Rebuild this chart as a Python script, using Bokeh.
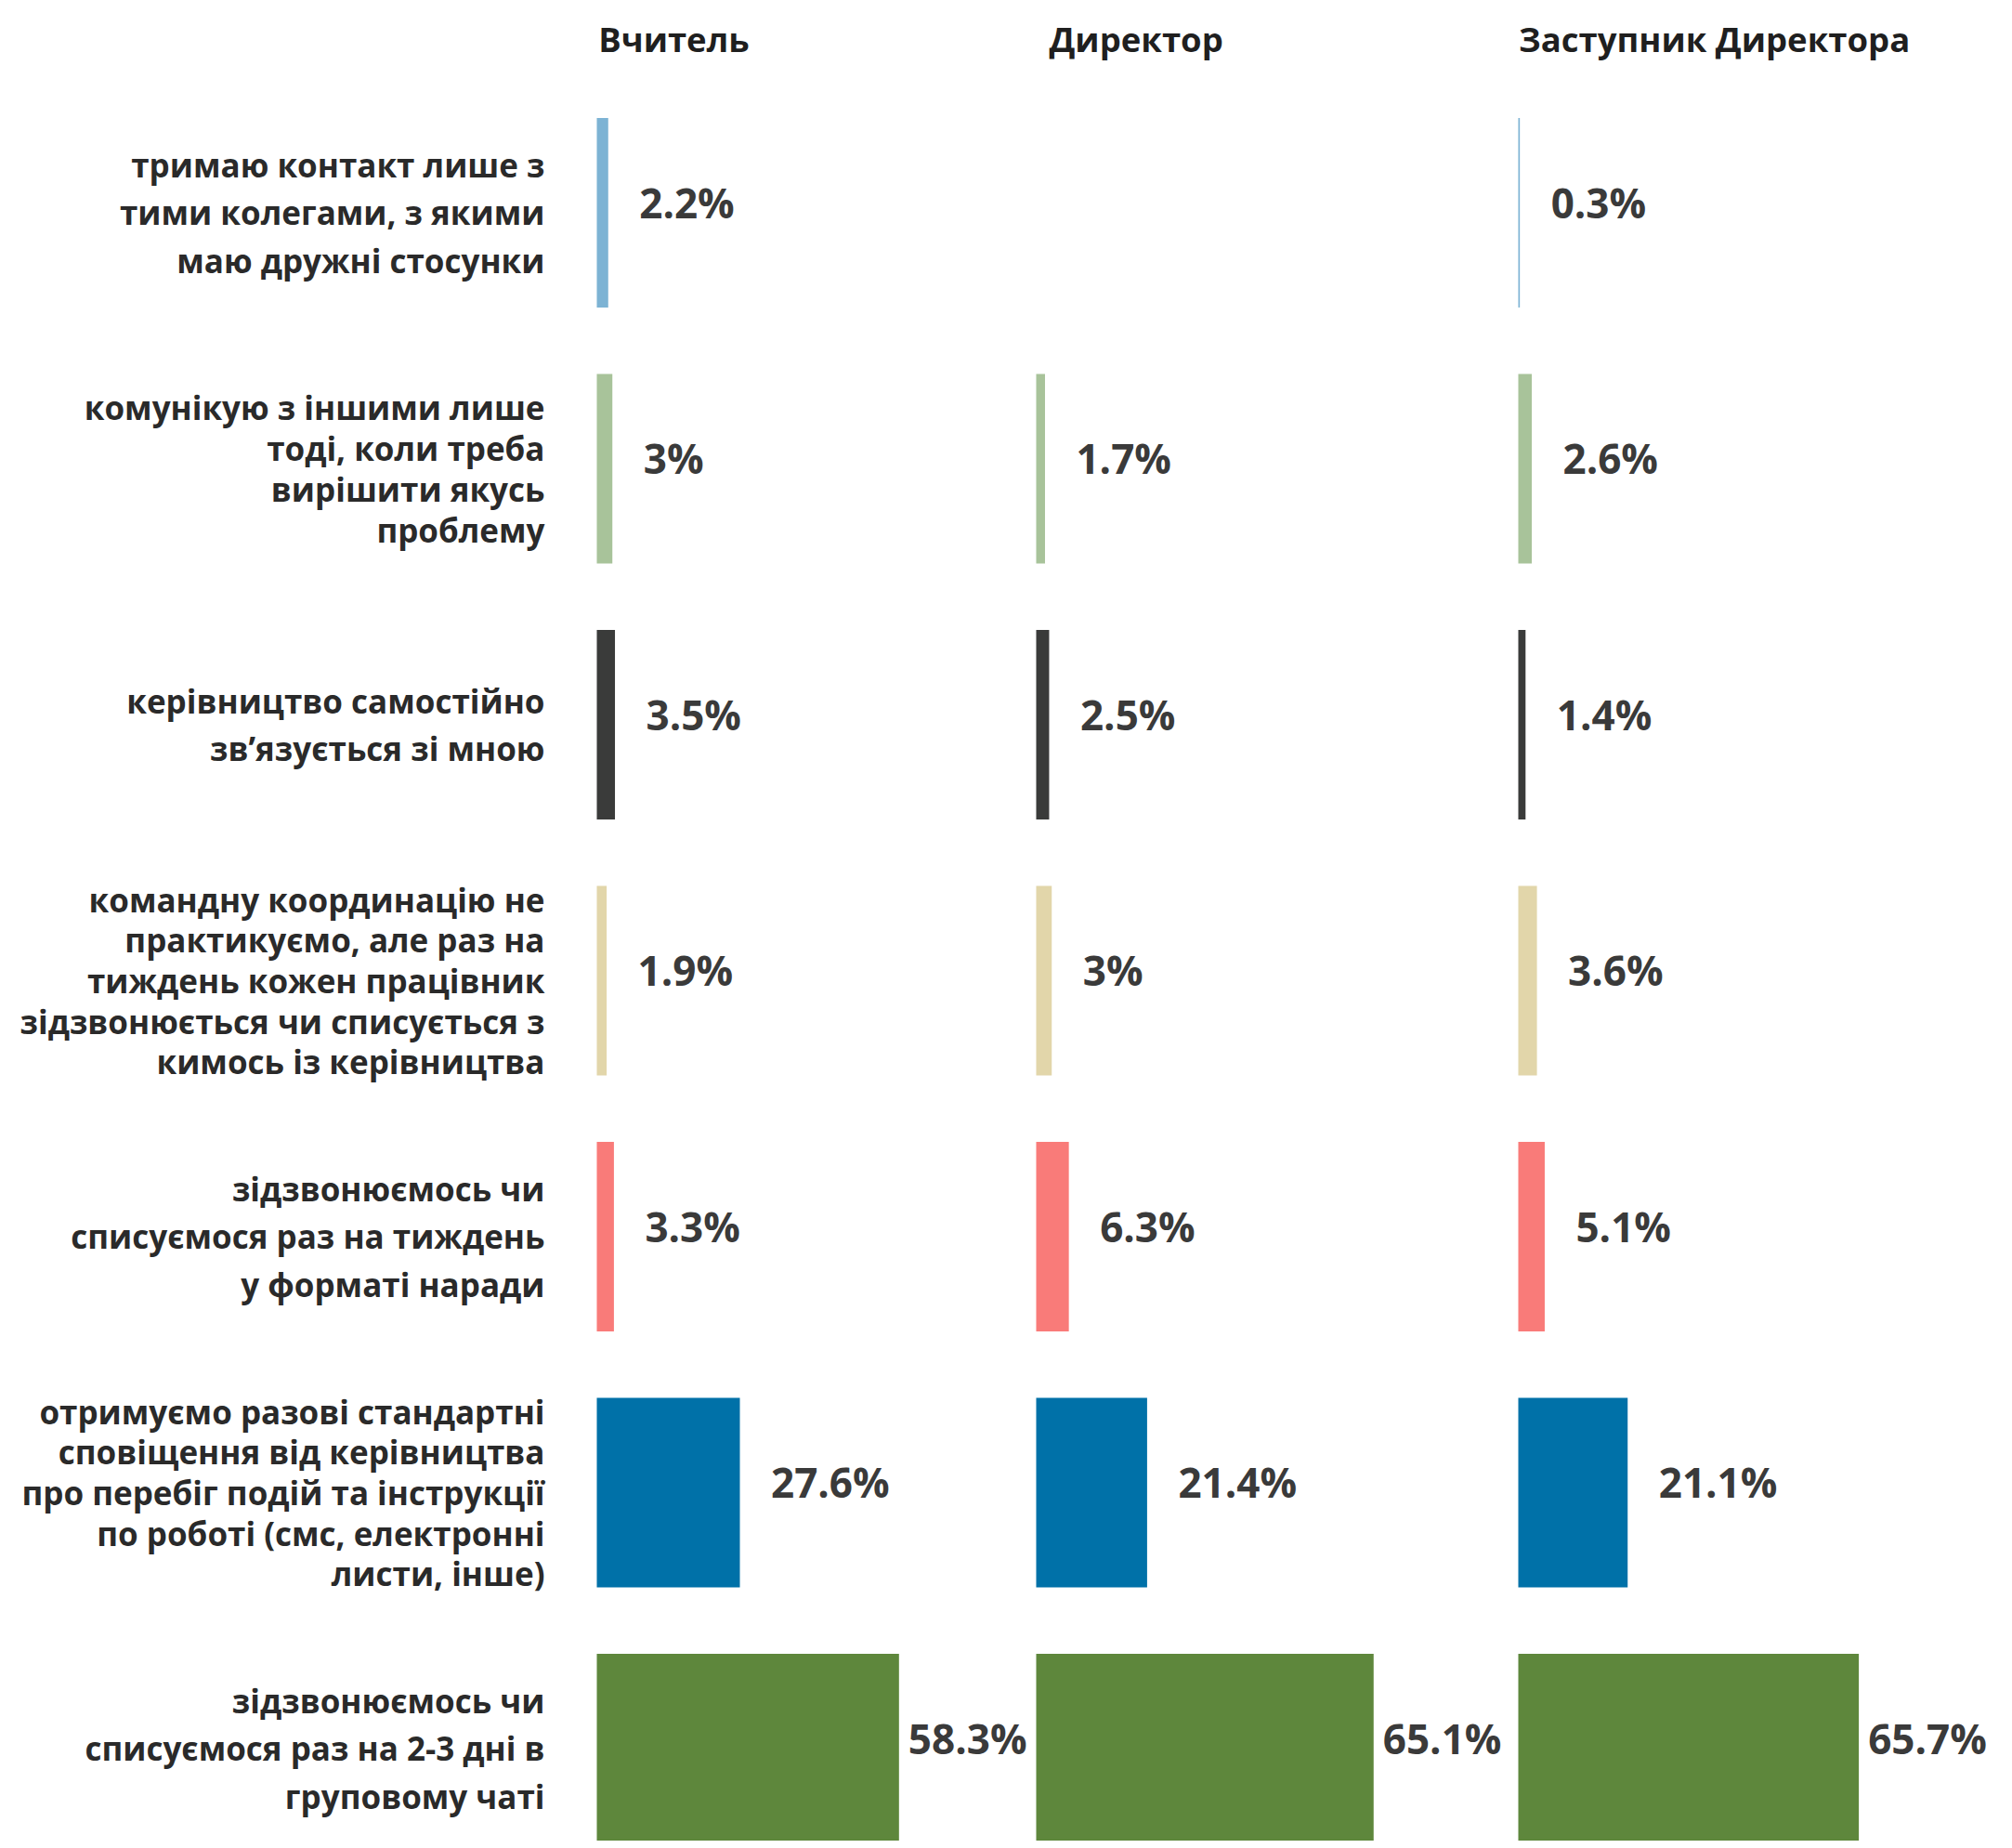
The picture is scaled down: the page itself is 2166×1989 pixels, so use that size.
from bokeh.plotting import figure
from bokeh.models import Range1d
from bokeh.core.properties import value
from bokeh.embed import file_html
from bokeh.resources import INLINE

# ---------------- data ----------------
roles = ["Вчитель", "Директор", "Заступник Директора"]

categories = [
    "тримаю контакт лише з\nтими колегами, з якими\nмаю дружні стосунки",
    "комунікую з іншими лише\nтоді, коли треба\nвирішити якусь\nпроблему",
    "керівництво самостійно\nзв’язується зі мною",
    "командну координацію не\nпрактикуємо, але раз на\nтиждень кожен працівник\nзідзвонюється чи списується з\nкимось із керівництва",
    "зідзвонюємось чи\nсписуємося раз на тиждень\nу форматі наради",
    "отримуємо разові стандартні\nсповіщення від керівництва\nпро перебіг подій та інструкції\nпо роботі (смс, електронні\nлисти, інше)",
    "зідзвонюємось чи\nсписуємося раз на 2-3 дні в\nгруповому чаті",
]

teacher = [2.2, 3, 3.5, 1.9, 3.3, 27.6, 58.3]
director = [None, 1.7, 2.5, 3, 6.3, 21.4, 65.1]
deputy = [0.3, 2.6, 1.4, 3.6, 5.1, 21.1, 65.7]

row_colors = ["#7DB3D4", "#A8C39A", "#3A3B3A", "#E2D6AA", "#F97B79", "#0071A8", "#5E873C"]

# ---------------- layout ----------------
W, H = 2158, 1981
PX_PER_PCT = 5.58             # horizontal scale: pixels per percentage point
ROW_PX = 275.5                # vertical pixel pitch per row
FIRST_ROW_CENTER_PX = 228.5   # pixel of first row centre
col_left_px = [642, 1115, 1634]
col_left = [c / PX_PER_PCT for c in col_left_px]
label_right = 586 / PX_PER_PCT

y_top = -FIRST_ROW_CENTER_PX / ROW_PX
y_bottom = (H - FIRST_ROW_CENTER_PX) / ROW_PX

p = figure(width=W, height=H, output_backend="svg", toolbar_location=None,
           x_range=Range1d(0, W / PX_PER_PCT), y_range=Range1d(y_bottom, y_top),
           min_border=0, outline_line_color=None,
           background_fill_color="white", border_fill_color="white")
p.xaxis.visible = False
p.yaxis.visible = False
p.grid.visible = False

series = [teacher, director, deputy]

bx_l, bx_r, by, bcol, tx, ty, tt = [], [], [], [], [], [], []
for ci, vals in enumerate(series):
    for ri, v in enumerate(vals):
        if v is None:
            continue
        bx_l.append(col_left[ci])
        bx_r.append(col_left[ci] + v)
        by.append(ri)
        bcol.append(row_colors[ri])
        gap = 1.8 if v > 50 else 6.0
        tx.append(col_left[ci] + v + gap)
        ty.append(ri - 0.04)
        tt.append(f"{v:g}%")

p.hbar(y=by, left=bx_l, right=bx_r, height=0.74, fill_color=bcol, line_color=None)

p.text(x=tx, y=ty, text=tt, text_font=value("Open Sans"), text_font_style="bold",
       text_font_size="44px", text_color="#3A3A3A", text_baseline="middle", text_align="left")

# category labels (two groups by line spacing)
short_idx = [i for i, c in enumerate(categories) if c.count("\n") <= 2]
long_idx = [i for i, c in enumerate(categories) if c.count("\n") > 2]
for idx, lh in ((short_idx, 1.09), (long_idx, 0.93)):
    p.text(x=[label_right] * len(idx), y=idx, text=[categories[i] for i in idx],
           text_font=value("Open Sans"), text_font_style="bold", text_font_size="35px",
           text_color="#2A2A2A", text_align="right", text_baseline="middle",
           text_line_height=lh)

# column headers
header_x = [col_left[0] + 0.3, col_left[1] + 2.5, col_left[2] + 0.1]
p.text(x=header_x, y=[y_top + 41 / ROW_PX] * 3, text=roles,
       text_font=value("Open Sans"), text_font_style="bold", text_font_size="36.5px",
       text_color="#1F1F1F", text_align="left", text_baseline="middle")

open("out.html", "w").write(file_html(p, INLINE))
